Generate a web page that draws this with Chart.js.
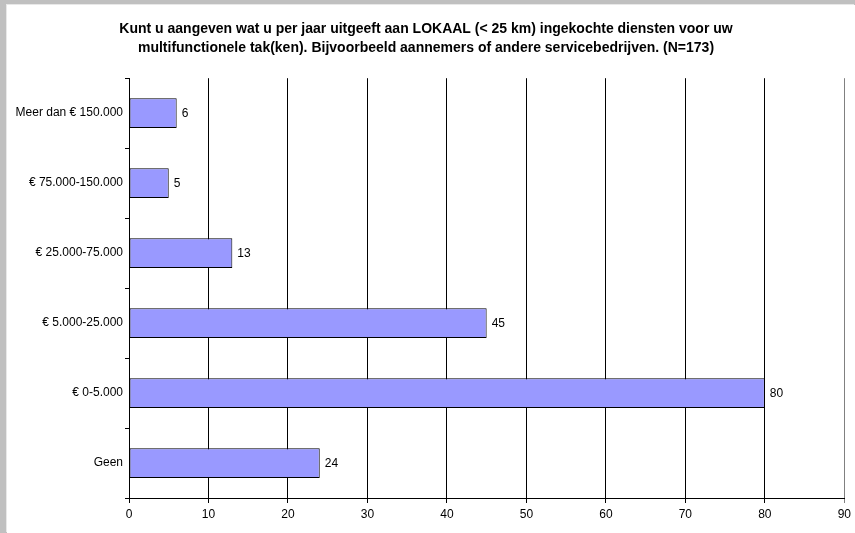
<!DOCTYPE html>
<html>
<head>
<meta charset="utf-8">
<script src="https://cdn.jsdelivr.net/npm/chart.js@4"></script>
<style>
  html, body { margin: 0; padding: 0; background: #fff; }
  #frame {
    position: absolute; left: 0; top: 0; width: 855px; height: 533px;
    background: #c0c0c0;
  }
  #inner {
    position: absolute; left: 7px; top: 5px; width: 848px; height: 528px;
    background: #fff; box-shadow: -1px -1px 0 #e8e8e8;
  }
  canvas { position: absolute; left: 0; top: 0; }
</style>
</head>
<body>
<div id="frame"><div id="inner"><canvas id="chart" width="848" height="528"></canvas></div></div>
<script>
// categories top to bottom, as in the picture
let categories = [
    "Meer dan € 150.000",
    "€ 75.000-150.000",
    "€ 25.000-75.000",
    "€ 5.000-25.000",
    "€ 0-5.000",
    "Geen"
];
let counts = [6, 5, 13, 45, 80, 24];
let xTicks = [0, 10, 20, 30, 40, 50, 60, 70, 80, 90];

let titleLines = [
    "Kunt u aangeven wat u per jaar uitgeeft aan LOKAAL (< 25 km) ingekochte diensten voor uw",
    "multifunctionele tak(ken). Bijvoorbeeld aannemers of andere servicebedrijven. (N=173)"
];

Chart.defaults.font.family = "'Liberation Sans', Arial, sans-serif";
Chart.defaults.color = "#000";

// draws the count just right of each bar
const barValues = {
    afterDatasetsDraw: function(chart) {
        var ctx = chart.ctx;
        ctx.save();
        ctx.font = "12px 'Liberation Sans', Arial, sans-serif";
        ctx.fillStyle = "#000";
        ctx.textBaseline = "middle";
        ctx.textAlign = "left";
        chart.getDatasetMeta(0).data.forEach(function(bar, i) {
            ctx.fillText(String(counts[i]), bar.x + 5, bar.y + 1);
        });
        ctx.restore();
    }
};

var chart = new Chart(document.getElementById('chart'), {
    type: 'bar',
    plugins: [barValues],
    data: {
        labels: categories,
        datasets: [{
            data: counts,
            backgroundColor: "#9999ff",
            borderColor: "#000",
            borderWidth: 1,
            borderSkipped: false,
            barPercentage: 0.85,
            categoryPercentage: 0.5
        }]
    },
    options: {
        indexAxis: 'y',
        responsive: false,
        animation: false,
        layout: { padding: { left: 0, right: 10, top: 0, bottom: 0 } },
        plugins: {
            legend: { display: false },
            tooltip: { enabled: false },
            title: {
                display: true,
                text: titleLines,
                font: { size: 14, weight: 'bold', lineHeight: 1.4 },
                padding: { top: 14, bottom: 20 },
                color: "#000"
            }
        },
        scales: {
            x: {
                min: 0,
                max: 90,
                afterBuildTicks: function(scale) {
                    scale.ticks = xTicks.map(function(v) { return { value: v }; });
                },
                afterFit: function(scale) { scale.height = 35; },
                grid: {
                    // the last gridline at the right edge is grey in the original
                    color: function(c) { return c.index === xTicks.length - 1 ? "#808080" : "#000"; },
                    lineWidth: 1,
                    tickLength: 5
                },
                border: { color: "#000" },
                ticks: { font: { size: 12 }, padding: 4, maxRotation: 0 }
            },
            y: {
                afterFit: function(scale) { scale.width = 122; },
                grid: { drawOnChartArea: false, color: "#000", tickLength: 4, offset: true },
                border: { color: "#000" },
                ticks: { font: { size: 12 }, padding: 2 }
            }
        }
    }
});
</script>
</body>
</html>
